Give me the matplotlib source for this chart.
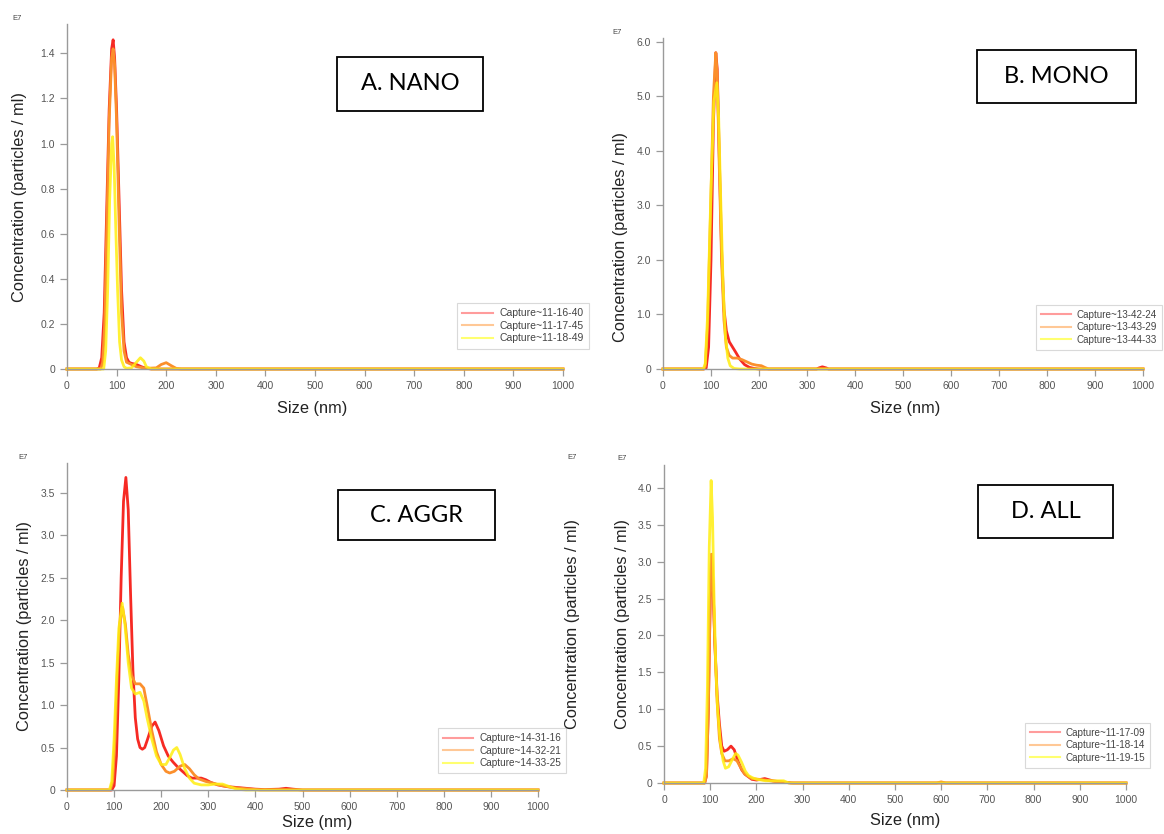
"""Nanoparticle tracking size distributions, four panels (NANO, MONO, AGGR, ALL)."""

import matplotlib

matplotlib.use("Agg")
import matplotlib.pyplot as plt
from matplotlib.lines import Line2D
from matplotlib.patches import Rectangle

W, H = 1164, 834

RED = "#f62a24"
ORANGE = "#fb8f2c"
YELLOW = "#ffee10"
LEG_COLORS = ["#ff9c9c", "#ffc896", "#ffff70"]
SPINE = "#9a9a9a"
TICK_TXT = "#555555"

# ---- A. NANO (units of 1e7 particles/ml) ----
NANO_RED_SIZE = [0, 60, 65, 70, 75, 80, 85, 90, 93, 96, 100, 105, 110, 115, 120, 125, 130, 140, 145, 150, 160, 170, 1000]
NANO_RED_CONC = [0, 0, 0.005, 0.05, 0.25, 0.7, 1.15, 1.42, 1.46, 1.38, 1.15, 0.75, 0.35, 0.12, 0.05, 0.03, 0.025, 0.02, 0.015, 0.01, 0.003, 0, 0]
NANO_ORANGE_SIZE = [0, 68, 72, 76, 80, 85, 90, 93, 96, 100, 105, 110, 115, 120, 130, 140, 160, 180, 190, 200, 210, 220, 230, 1000]
NANO_ORANGE_CONC = [0, 0, 0.03, 0.2, 0.6, 1.1, 1.38, 1.42, 1.35, 1.1, 0.65, 0.25, 0.08, 0.03, 0.02, 0.01, 0.003, 0.005, 0.02, 0.028, 0.015, 0.003, 0, 0]
NANO_YELLOW_SIZE = [0, 74, 78, 82, 86, 90, 92, 95, 98, 102, 106, 110, 115, 120, 130, 140, 148, 155, 160, 170, 1000]
NANO_YELLOW_CONC = [0, 0, 0.08, 0.35, 0.75, 1.0, 1.03, 0.9, 0.65, 0.35, 0.12, 0.04, 0.01, 0.003, 0.005, 0.03, 0.05, 0.035, 0.01, 0, 0]

# ---- B. MONO ----
MONO_RED_SIZE = [0, 85, 90, 95, 100, 105, 110, 113, 117, 122, 127, 132, 138, 145, 152, 160, 170, 180, 190, 200, 320, 325, 332, 340, 345, 1000]
MONO_RED_CONC = [0, 0, 0.02, 0.4, 2.0, 4.5, 5.8, 5.5, 4.0, 2.2, 1.1, 0.7, 0.5, 0.4, 0.3, 0.18, 0.08, 0.03, 0.01, 0, 0, 0.02, 0.04, 0.02, 0, 0]
MONO_ORANGE_SIZE = [0, 85, 88, 93, 100, 105, 110, 113, 117, 122, 127, 132, 138, 145, 155, 165, 175, 185, 195, 205, 212, 220, 1000]
MONO_ORANGE_CONC = [0, 0, 0.05, 0.8, 3.2, 5.0, 5.8, 5.4, 3.8, 2.0, 0.9, 0.4, 0.25, 0.2, 0.2, 0.17, 0.13, 0.09, 0.07, 0.06, 0.03, 0, 0]
MONO_YELLOW_SIZE = [0, 84, 88, 93, 100, 106, 112, 116, 120, 125, 130, 135, 140, 148, 160, 1000]
MONO_YELLOW_CONC = [0, 0, 0.1, 1.0, 3.3, 4.9, 5.25, 4.6, 3.2, 1.6, 0.6, 0.2, 0.06, 0.01, 0, 0]

# ---- C. AGGR ----
AGGR_RED_SIZE = [0, 95, 100, 105, 110, 115, 120, 125, 130, 135, 140, 145, 150, 155, 160, 165, 170, 180, 187, 195, 205, 215,
                 225, 235, 245, 255, 265, 275, 285, 295, 305, 320, 340, 360, 380, 400, 420, 450, 465, 480, 500, 1000]
AGGR_RED_CONC = [0, 0, 0.05, 0.4, 1.3, 2.5, 3.4, 3.68, 3.3, 2.3, 1.4, 0.85, 0.6, 0.5, 0.48, 0.5, 0.58, 0.75, 0.8, 0.7, 0.52, 0.4,
                 0.33, 0.27, 0.22, 0.17, 0.14, 0.14, 0.14, 0.12, 0.09, 0.06, 0.04, 0.03, 0.02, 0.01, 0.005, 0.01, 0.02, 0.01, 0, 0]
AGGR_ORANGE_SIZE = [0, 92, 97, 102, 107, 112, 118, 124, 130, 137, 145, 155, 163, 170, 180, 190, 200, 210, 218, 228, 240, 250,
                    260, 270, 280, 295, 310, 330, 350, 370, 390, 410, 1000]
AGGR_ORANGE_CONC = [0, 0, 0.1, 0.6, 1.4, 1.95, 2.15, 1.95, 1.6, 1.35, 1.25, 1.25, 1.2, 1.0, 0.7, 0.45, 0.3, 0.22, 0.2, 0.22, 0.28, 0.3,
                    0.25, 0.18, 0.13, 0.1, 0.08, 0.05, 0.03, 0.02, 0.01, 0, 0]
AGGR_YELLOW_SIZE = [0, 90, 95, 100, 105, 110, 117, 123, 130, 137, 145, 155, 163, 170, 180, 190, 200, 210, 218, 226, 233, 240,
                    250, 260, 270, 285, 300, 315, 330, 345, 360, 380, 1000]
AGGR_YELLOW_CONC = [0, 0, 0.1, 0.6, 1.3, 1.9, 2.2, 1.95, 1.5, 1.2, 1.13, 1.15, 1.05, 0.85, 0.6, 0.4, 0.3, 0.3, 0.38, 0.47, 0.5, 0.42,
                    0.25, 0.14, 0.08, 0.06, 0.06, 0.07, 0.07, 0.04, 0.01, 0, 0]

# ---- D. ALL ----
ALL_RED_SIZE = [0, 88, 92, 96, 100, 103, 106, 110, 115, 120, 125, 130, 137, 145, 152, 160, 168, 175, 190, 200, 210, 218, 235, 260, 275, 1000]
ALL_RED_CONC = [0, 0, 0.1, 1.0, 2.5, 3.1, 2.7, 1.9, 1.2, 0.8, 0.5, 0.43, 0.45, 0.5, 0.45, 0.3, 0.18, 0.12, 0.05, 0.04, 0.05, 0.06, 0.03, 0.01, 0, 0]
ALL_ORANGE_SIZE = [0, 88, 92, 96, 100, 103, 106, 110, 115, 120, 125, 132, 140, 150, 158, 165, 175, 190, 205, 220, 240, 260, 280,
                   590, 600, 610, 1000]
ALL_ORANGE_CONC = [0, 0, 0.1, 1.0, 2.5, 3.1, 2.7, 1.9, 1.1, 0.6, 0.4, 0.3, 0.3, 0.33, 0.3, 0.22, 0.12, 0.06, 0.05, 0.04, 0.02, 0.01, 0,
                   0, 0.015, 0, 0]
ALL_YELLOW_SIZE = [0, 86, 90, 94, 98, 102, 105, 108, 112, 116, 122, 128, 133, 140, 148, 155, 160, 168, 176, 183, 192, 201, 220,
                   240, 259, 270, 1000]
ALL_YELLOW_CONC = [0, 0, 0.2, 1.3, 3.2, 4.1, 3.6, 2.6, 1.6, 1.0, 0.55, 0.3, 0.2, 0.22, 0.32, 0.4, 0.38, 0.28, 0.16, 0.1, 0.07, 0.05, 0.03,
                   0.03, 0.03, 0, 0]

PANELS = [
    # box label, captures, series, ylim top, yticks, axes px (left, right, y0, ytop)
    ("A. NANO", ["Capture~11-16-40", "Capture~11-17-45", "Capture~11-18-49"],
     [(NANO_RED_SIZE, NANO_RED_CONC), (NANO_ORANGE_SIZE, NANO_ORANGE_CONC), (NANO_YELLOW_SIZE, NANO_YELLOW_CONC)],
     1.53, [0, 0.2, 0.4, 0.6, 0.8, 1.0, 1.2, 1.4], (67, 563, 369, 24)),
    ("B. MONO", ["Capture~13-42-24", "Capture~13-43-29", "Capture~13-44-33"],
     [(MONO_RED_SIZE, MONO_RED_CONC), (MONO_ORANGE_SIZE, MONO_ORANGE_CONC), (MONO_YELLOW_SIZE, MONO_YELLOW_CONC)],
     6.07, [0, 1.0, 2.0, 3.0, 4.0, 5.0, 6.0], (663, 1143, 369, 38)),
    ("C. AGGR", ["Capture~14-31-16", "Capture~14-32-21", "Capture~14-33-25"],
     [(AGGR_RED_SIZE, AGGR_RED_CONC), (AGGR_ORANGE_SIZE, AGGR_ORANGE_CONC), (AGGR_YELLOW_SIZE, AGGR_YELLOW_CONC)],
     3.85, [0, 0.5, 1.0, 1.5, 2.0, 2.5, 3.0, 3.5], (67, 538, 790, 463)),
    ("D. ALL", ["Capture~11-17-09", "Capture~11-18-14", "Capture~11-19-15"],
     [(ALL_RED_SIZE, ALL_RED_CONC), (ALL_ORANGE_SIZE, ALL_ORANGE_CONC), (ALL_YELLOW_SIZE, ALL_YELLOW_CONC)],
     4.31, [0, 0.5, 1.0, 1.5, 2.0, 2.5, 3.0, 3.5, 4.0], (664, 1126, 783, 465)),
]

XTICKS = [0, 100, 200, 300, 400, 500, 600, 700, 800, 900, 1000]

# figure-pixel placements for decorations
BOXES = [(337, 57, 483, 111), (977, 50, 1136, 103), (338, 490, 495, 540), (978, 485, 1113, 538)]
LEGEND_AT = [(457, 303), (1036, 305), (438, 728), (1025, 723)]
LEGEND_SIZE = [7.5, 7.1, 7.2, 7.1]
YLABEL_AT = [(20, 197), (620, 237), (25, 626), (622, 624)]
E7_AT = [(17, 18), (617, 32), (23, 457), (622, 458)]
XLABEL_AT = [(312, 408), (905, 408), (317, 823), (905, 820)]

TXT = ["Liberation Sans", "DejaVu Sans"]


def fx(px):
    return px / W


def fy(py):
    return 1 - py / H


fig = plt.figure(figsize=(W / 100, H / 100), dpi=100)
fig.patch.set_facecolor("white")

for i, (label, captures, series, ytop, yticks, (left, right, y0, yt)) in enumerate(PANELS):
    ax = fig.add_axes([fx(left), fy(y0), (right - left) / W, (y0 - yt) / H])
    for (sx, sy), c, a in zip(series, [RED, ORANGE, YELLOW], [1.0, 1.0, 0.85]):
        ax.plot(sx, sy, color=c, lw=2.0, alpha=a, solid_joinstyle="round", clip_on=False)
    ax.set_xlim(0, 1000)
    ax.set_ylim(0, ytop)
    ax.set_xticks(XTICKS)
    ax.set_yticks(yticks)
    ax.set_yticklabels(["0"] + [f"{v:.1f}" for v in yticks[1:]])
    for side in ("top", "right"):
        ax.spines[side].set_visible(False)
    for side in ("left", "bottom"):
        ax.spines[side].set_color(SPINE)
        ax.spines[side].set_linewidth(1.0)
    ax.tick_params(colors=SPINE, labelcolor=TICK_TXT, labelsize=7.5, length=5, width=0.9)
    for t in ax.get_xticklabels() + ax.get_yticklabels():
        t.set_family(TXT)

    handles = [Line2D([], [], color=c, lw=1.5) for c in LEG_COLORS]
    lx, ly = LEGEND_AT[i]
    leg = ax.legend(handles, captures, loc="upper left", bbox_to_anchor=(fx(lx), fy(ly)),
                    bbox_transform=fig.transFigure, fancybox=False, frameon=True,
                    prop={"family": TXT, "size": LEGEND_SIZE[i]}, labelcolor="#444444",
                    handlelength=3.0, handletextpad=0.6, borderpad=0.5, labelspacing=0.25,
                    borderaxespad=0)
    leg.get_frame().set_edgecolor("#d0d0d0")
    leg.get_frame().set_linewidth(0.8)

    bx0, by0, bx1, by1 = BOXES[i]
    fig.patches.append(Rectangle((fx(bx0), fy(by1)), (bx1 - bx0) / W, (by1 - by0) / H,
                                 transform=fig.transFigure, fill=False, edgecolor="black", lw=1.3))
    fig.text(fx((bx0 + bx1) / 2), fy((by0 + by1) / 2), label, ha="center", va="center",
             fontsize=17, family=["Lato", "DejaVu Sans"])

    yx, yy = YLABEL_AT[i]
    fig.text(fx(yx), fy(yy), "Concentration (particles / ml)", rotation=90, ha="center", va="center",
             fontsize=11.8, family=TXT, color="#222222")
    ex, ey = E7_AT[i]
    fig.text(fx(ex), fy(ey), "E7", ha="center", va="center", fontsize=5.5, family=TXT, color="#444444")
    sx_, sy_ = XLABEL_AT[i]
    fig.text(fx(sx_), fy(sy_), "Size (nm)", ha="center", va="center", fontsize=11.8, family=TXT, color="#222222")

# leftover label from the neighbouring screenshot in panel D
fig.text(fx(573), fy(624), "Concentration (particles / ml)", rotation=90, ha="center", va="center",
         fontsize=11.8, family=TXT, color="#222222")
fig.text(fx(572), fy(457), "E7", ha="center", va="center", fontsize=5.5, family=TXT, color="#444444")

fig.savefig("out.png", dpi=100, facecolor="white")
